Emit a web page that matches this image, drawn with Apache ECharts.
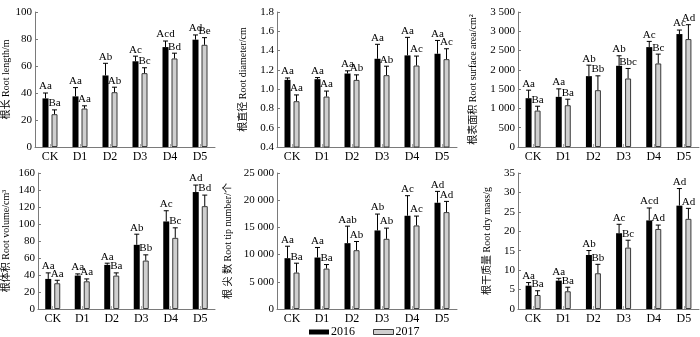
<!DOCTYPE html>
<html>
<head>
<meta charset="utf-8">
<script src="https://cdn.jsdelivr.net/npm/echarts@6/dist/echarts.min.js"></script>
<style>
  html, body { margin: 0; padding: 0; background: #fff; }
  #main { width: 700px; height: 337px; }
</style>
</head>
<body>
<div id="main"></div>
<script>
// 处理
const categories = ['CK', 'D1', 'D2', 'D3', 'D4', 'D5']
const years = ['2016', '2017']

// 根长 Root length
const length2016 = [36, 37.5, 53, 63.5, 74, 79.5]
const lengthSd2016 = [4, 6.5, 9, 3.8, 4.5, 3.5]
const lengthTag2016 = ['Aa', 'Aa', 'Ab', 'Ac', 'Acd', 'Ad']
const length2017 = [24.3, 28.5, 40.6, 54.7, 65.6, 75.7]
const lengthSd2017 = [3.2, 2, 3.7, 4, 3.9, 5.3]
const lengthTag2017 = ['Ba', 'Aa', 'Ab', 'Bc', 'Bd', 'Be']

// 根直径 Root diameter
const diam2016 = [1.096, 1.103, 1.162, 1.315, 1.35, 1.367]
const diamSd2016 = [0.02, 0.017, 0.028, 0.15, 0.187, 0.138]
const diamTag2016 = ['Aa', 'Aa', 'Aa', 'Aa', 'Aa', 'Aa']
const diam2017 = [0.875, 0.923, 1.096, 1.145, 1.245, 1.311]
const diamSd2017 = [0.065, 0.057, 0.052, 0.093, 0.098, 0.108]
const diamTag2017 = ['Aa', 'Aa', 'Ab', 'Ab', 'Ac', 'Ac']

// 根表面积 Root surface area
const area2016 = [1265, 1300, 1837, 2105, 2590, 2928]
const areaSd2016 = [208, 207, 285, 260, 148, 104]
const areaTag2016 = ['Aa', 'Aa', 'Ab', 'Ab', 'Ac', 'Ac']
const area2017 = [944, 1083, 1473, 1776, 2166, 2798]
const areaSd2017 = [113, 156, 372, 260, 242, 373]
const areaTag2017 = ['Ba', 'Ba', 'Bb', 'Bbc', 'Bc', 'Ad']

// 根体积 Root volume
const vol2016 = [35.4, 39.3, 51.9, 75.5, 103, 137.6]
const volSd2016 = [7.1, 2, 2, 12.5, 12.6, 8.2]
const volTag2016 = ['Aa', 'Aa', 'Aa', 'Ab', 'Ac', 'Ad']
const vol2017 = [30.3, 32.6, 39.3, 57, 83.7, 121]
const volSd2017 = [3.5, 2.8, 3.2, 6.7, 11.8, 13]
const volTag2017 = ['Aa', 'Aa', 'Ba', 'Bb', 'Bc', 'Bd']

// 根尖数 Root tip number
const tip2016 = [9340, 9460, 12100, 14440, 17140, 19530]
const tipSd2016 = [2200, 1850, 3130, 3010, 3690, 2090]
const tipTag2016 = ['Aa', 'Aa', 'Aab', 'Ab', 'Ac', 'Ad']
const tip2017 = [6700, 7430, 10810, 12900, 15360, 17810]
const tipSd2017 = [1720, 740, 1600, 1970, 1720, 1970]
const tipTag2017 = ['Ba', 'Ba', 'Ab', 'Ab', 'Ac', 'Ad']

// 根干质量 Root dry mass
const mass2016 = [6.0, 7.3, 13.9, 19.5, 22.8, 26.6]
const massSd2016 = [0.8, 0.6, 1.15, 2.3, 3.2, 4.4]
const massTag2016 = ['Aa', 'Aa', 'Ab', 'Ac', 'Acd', 'Ad']
const mass2017 = [3.6, 4.56, 9.2, 15.8, 20.6, 23.2]
const massSd2017 = [1.1, 1.04, 2.3, 1.9, 1.0, 2.7]
const massTag2017 = ['Ba', 'Ba', 'Bb', 'Bc', 'Ad', 'Ad']

const panels = [
  { name: '根长 Root length/m', min: 0, max: 100, interval: 20, gap: 24,
    a: length2016, aSd: lengthSd2016, aTag: lengthTag2016, b: length2017, bSd: lengthSd2017, bTag: lengthTag2017 },
  { name: '根直径 Root diameter/cm', min: 0.4, max: 1.8, interval: 0.2, gap: 29,
    a: diam2016, aSd: diamSd2016, aTag: diamTag2016, b: diam2017, bSd: diamSd2017, bTag: diamTag2017 },
  { name: '根表面积 Root surface area/cm²', min: 0, max: 3500, interval: 500, gap: 40,
    a: area2016, aSd: areaSd2016, aTag: areaTag2016, b: area2017, bSd: areaSd2017, bTag: areaTag2017 },
  { name: '根体积 Root volume/cm³', min: 0, max: 160, interval: 20, gap: 27,
    a: vol2016, aSd: volSd2016, aTag: volTag2016, b: vol2017, bSd: volSd2017, bTag: volTag2017 },
  { name: '根 尖 数 Root tip number/个', min: 0, max: 25000, interval: 5000, gap: 44,
    a: tip2016, aSd: tipSd2016, aTag: tipTag2016, b: tip2017, bSd: tipSd2017, bTag: tipTag2017 },
  { name: '根干质量 Root dry mass/g', min: 0, max: 35, interval: 5, gap: 26,
    a: mass2016, aSd: massSd2016, aTag: massTag2016, b: mass2017, bSd: massSd2017, bTag: massTag2017 }
]

const gridPos = [
  { left: 35, top: 12, width: 180, height: 135 },
  { left: 277, top: 12, width: 180, height: 135 },
  { left: 518, top: 12, width: 181, height: 135 },
  { left: 35, top: 173, width: 180, height: 136 },
  { left: 277, top: 173, width: 180, height: 136 },
  { left: 518, top: 173, width: 181, height: 136 }
]

const serif = 'Liberation Serif, Times New Roman, Noto Sans CJK SC, serif'
const axisColor = '#7a7a7a'
const barW = 6
const halfStep = 4.5

function fmtTick (v) {
  // 千位用空格分隔
  const s = String(Math.round(v * 10) / 10)
  if (Math.abs(v) >= 1000) return s.replace(/\B(?=(\d{3})+(?!\d))/g, ' ')
  if (s.indexOf('.') < 0 && v < 2 && v > 0) return s + '.0'
  return s
}

function errRender (offset, sdArr, tagArr) {
  return function (params, api) {
    const i = api.value(0)
    const v = api.value(1)
    const base = api.coord([i, v])
    const top = api.coord([i, v + sdArr[params.dataIndex]])
    const cx = base[0] + offset
    return {
      type: 'group',
      children: [
        { type: 'line', shape: { x1: cx, y1: base[1], x2: cx, y2: top[1] }, style: { stroke: '#000', lineWidth: 1 } },
        { type: 'line', shape: { x1: cx - 2.5, y1: top[1], x2: cx + 2.5, y2: top[1] }, style: { stroke: '#000', lineWidth: 1 } },
        { type: 'text', x: cx, y: top[1] - 1,
          style: { text: tagArr[params.dataIndex], fill: '#000', font: '11px ' + serif, textAlign: 'center', textVerticalAlign: 'bottom' } }
      ]
    }
  }
}

const grids = []
const xAxes = []
const yAxes = []
const series = []

panels.forEach(function (p, k) {
  grids.push(gridPos[k])
  xAxes.push({
    type: 'category',
    gridIndex: k,
    data: categories,
    axisLine: { lineStyle: { color: axisColor, width: 1 } },
    axisTick: { show: true, inside: true, alignWithLabel: true, length: 3, lineStyle: { color: '#aaa' } },
    axisLabel: { color: '#000', fontFamily: serif, fontSize: 12, margin: 4 }
  })
  yAxes.push({
    type: 'value',
    gridIndex: k,
    min: p.min,
    max: p.max,
    interval: p.interval,
    name: p.name,
    nameLocation: 'middle',
    nameGap: p.gap,
    nameTextStyle: { color: '#000', fontFamily: serif, fontSize: 10 },
    splitLine: { show: false },
    axisLine: { show: true, lineStyle: { color: axisColor, width: 1 } },
    axisTick: { show: true, inside: true, length: 3, lineStyle: { color: axisColor } },
    axisLabel: { color: '#000', fontFamily: serif, fontSize: 11, margin: 3, formatter: fmtTick }
  })
  const barA = p.a.map(function (v, i) { return [i, v] })
  const barB = p.b.map(function (v, i) { return [i, v] })
  series.push({
    name: years[0], type: 'bar', xAxisIndex: k, yAxisIndex: k,
    barWidth: barW, barGap: '50%',
    itemStyle: { color: '#000' },
    data: p.a
  })
  series.push({
    name: years[1], type: 'bar', xAxisIndex: k, yAxisIndex: k,
    barWidth: barW, barGap: '50%',
    itemStyle: { color: '#cfcfcf', borderColor: '#3a3a3a', borderWidth: 1 },
    data: p.b
  })
  series.push({
    type: 'custom', xAxisIndex: k, yAxisIndex: k, z: 5,
    renderItem: errRender(-halfStep, p.aSd, p.aTag),
    data: barA
  })
  series.push({
    type: 'custom', xAxisIndex: k, yAxisIndex: k, z: 5,
    renderItem: errRender(halfStep, p.bSd, p.bTag),
    data: barB
  })
})

const myChart = echarts.init(document.getElementById('main'))
myChart.setOption({
  animation: false,
  legend: {
    data: [
      { name: '2016', itemStyle: { color: '#000' } },
      { name: '2017', itemStyle: { color: '#cfcfcf', borderColor: '#3a3a3a', borderWidth: 1 } }
    ],
    left: 304,
    top: 321,
    itemWidth: 20,
    itemHeight: 5,
    itemGap: 18,
    icon: 'rect',
    textStyle: { color: '#000', fontFamily: serif, fontSize: 12, padding: [0, 0, 0, -3] }
  },
  grid: grids,
  xAxis: xAxes,
  yAxis: yAxes,
  series: series
})
</script>
</body>
</html>
